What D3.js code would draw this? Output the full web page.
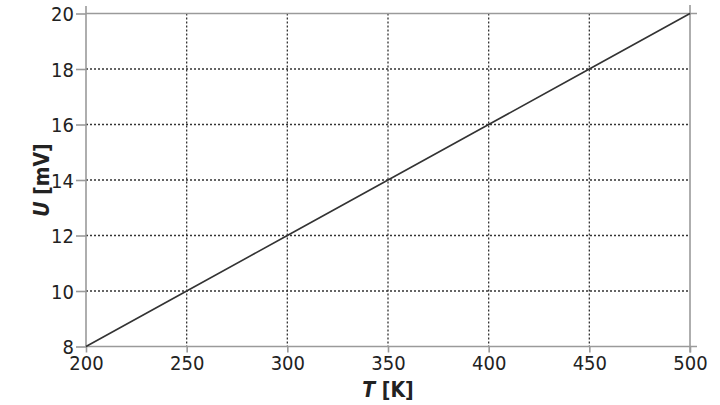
<!DOCTYPE html>
<html>
<head>
<meta charset="utf-8">
<script src="https://cdn.jsdelivr.net/npm/d3@7"></script>
<style>
body { margin: 0; background: #fff; }
text { font-family: "DejaVu Sans Condensed", "DejaVu Sans", sans-serif; fill: #222; }
</style>
</head>
<body>
<div id="chart"></div>
<script>
var w = 720,
    h = 405;

// data
var temps = [200, 250, 300, 350, 400, 450, 500];
var volts = [8, 10, 12, 14, 16, 18, 20];
var xTicks = [200, 250, 300, 350, 400, 450, 500];
var yTicks = [8, 10, 12, 14, 16, 18, 20];

var pLeft = 86, pRight = 690, pTop = 13.5, pBottom = 346.5;

var x = d3.scaleLinear().domain([200, 500]).range([pLeft, pRight]);
var y = d3.scaleLinear().domain([8, 20]).range([pBottom, pTop]);

var svg = d3.select("#chart")
    .append("svg")
    .attr("width", w)
    .attr("height", h);

// dotted grid
svg.selectAll(".vgrid")
    .data(xTicks.slice(1, -1))
    .enter()
    .append("line")
    .attr("x1", function(d) { return x(d); })
    .attr("x2", function(d) { return x(d); })
    .attr("y1", pTop)
    .attr("y2", pBottom)
    .attr("stroke", "#333")
    .attr("stroke-width", 1.3)
    .attr("stroke-dasharray", "2,2");

svg.selectAll(".hgrid")
    .data(yTicks.slice(1, -1))
    .enter()
    .append("line")
    .attr("x1", pLeft)
    .attr("x2", pRight)
    .attr("y1", function(d) { return y(d); })
    .attr("y2", function(d) { return y(d); })
    .attr("stroke", "#333")
    .attr("stroke-width", 1.3)
    .attr("stroke-dasharray", "2,2");

// frame lines (grey, running a bit past the corners)
var grey = "#9a9a9a";
var frame = [
    [pLeft, 6, pLeft, pBottom],
    [pLeft, pBottom, pRight + 7, pBottom],
    [pLeft, pTop, pRight + 7, pTop],
    [pRight, 5, pRight, pBottom + 6]
];
svg.selectAll(".frame")
    .data(frame)
    .enter()
    .append("line")
    .attr("x1", function(d) { return d[0]; })
    .attr("y1", function(d) { return d[1]; })
    .attr("x2", function(d) { return d[2]; })
    .attr("y2", function(d) { return d[3]; })
    .attr("stroke", grey)
    .attr("stroke-width", 1.6);

// axes
var xAxis = svg.append("g")
    .attr("transform", "translate(0," + pBottom + ")")
    .call(d3.axisBottom(x).tickValues(xTicks).tickSize(6).tickSizeOuter(0).tickPadding(3));

var yAxis = svg.append("g")
    .attr("transform", "translate(" + pLeft + ",0)")
    .call(d3.axisLeft(y).tickValues(yTicks).tickSize(10).tickSizeOuter(0).tickPadding(2));

[xAxis, yAxis].forEach(function(g) {
    g.select(".domain").remove();
    g.selectAll(".tick line").attr("stroke", grey).attr("stroke-width", 1.6);
    g.selectAll(".tick text")
        .attr("font-size", "20px")
        .attr("font-family", null)
        .attr("fill", "#222");
});
yAxis.selectAll(".tick text").attr("dy", "0.36em");

// the line
var line = d3.line()
    .x(function(d, i) { return x(temps[i]); })
    .y(function(d) { return y(d); });

svg.append("path")
    .datum(volts)
    .attr("d", line)
    .attr("fill", "none")
    .attr("stroke", "#333")
    .attr("stroke-width", 1.6);

// axis titles
var xt = svg.append("text")
    .attr("x", (pLeft + pRight) / 2)
    .attr("y", 397)
    .attr("text-anchor", "middle")
    .attr("font-size", "21px")
    .style("font-weight", "bold");
xt.append("tspan").style("font-style", "italic").text("T");
xt.append("tspan").text(" [K]");

var yt = svg.append("text")
    .attr("transform", "translate(49," + ((pTop + pBottom) / 2) + ") rotate(-90)")
    .attr("text-anchor", "middle")
    .attr("font-size", "21px")
    .style("font-weight", "bold");
yt.append("tspan").style("font-style", "italic").text("U");
yt.append("tspan").text(" [mV]");
</script>
</body>
</html>
